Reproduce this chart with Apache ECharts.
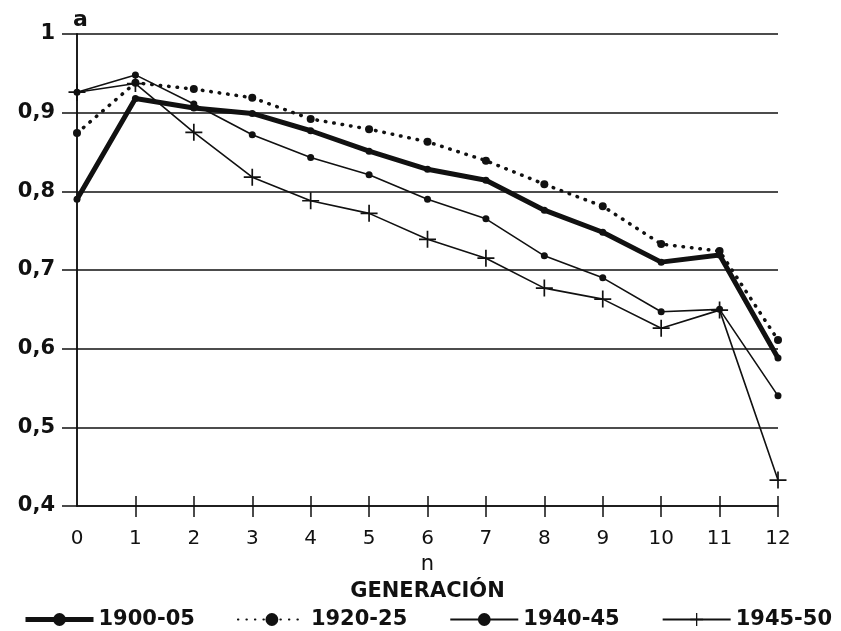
<!DOCTYPE html>
<html>
<head>
<meta charset="utf-8">
<script src="https://cdn.jsdelivr.net/npm/echarts@6/dist/echarts.min.js"></script>
<style>
  html, body { margin: 0; padding: 0; background: #fff; }
  #chart { width: 841px; height: 631px; }
</style>
</head>
<body>
<div id="chart"></div>
<script>
// generación n
var generations = [0, 1, 2, 3, 4, 5, 6, 7, 8, 9, 10, 11, 12];
// valores de a por cohorte
var s1900 = [0.790, 0.918, 0.906, 0.899, 0.877, 0.851, 0.828, 0.814, 0.776, 0.748, 0.710, 0.719, 0.588];
var s1920 = [0.874, 0.938, 0.930, 0.919, 0.892, 0.879, 0.863, 0.839, 0.809, 0.781, 0.733, 0.724, 0.611];
var s1940 = [0.926, 0.948, 0.911, 0.872, 0.843, 0.821, 0.790, 0.765, 0.718, 0.690, 0.647, 0.650, 0.540];
var s1945 = [0.926, 0.937, 0.875, 0.818, 0.788, 0.772, 0.739, 0.715, 0.677, 0.663, 0.626, 0.649, 0.433];
var seriesNames = ["1900-05", "1920-25", "1940-45", "1945-50"];
// ejes
var yTicks = [0.4, 0.5, 0.6, 0.7, 0.8, 0.9, 1];
var yLabels = ["0,4", "0,5", "0,6", "0,7", "0,8", "0,9", "1"];
var xTicks = [1, 2, 3, 4, 5, 6, 7, 8, 9, 10, 11, 12];

var ink = "#111";
var plus = "path://M9,0h2v9h9v2h-9v9h-2v-9h-9v-2h9z";

function pairs(vals) {
  return generations.map(function (n, i) { return [n, vals[i]]; });
}

var chart = echarts.init(document.getElementById("chart"));

var option = {
  backgroundColor: "#fff",
  animation: false,
  grid: { left: 77, right: 63, top: 34, bottom: 125 },
  legend: {
    left: 18,
    top: 604,
    itemWidth: 68,
    itemHeight: 16,
    itemGap: 42,
    textStyle: { color: ink, fontFamily: "DejaVu Sans", fontWeight: "bold", fontSize: 21 },
    data: [
      { name: seriesNames[0], lineStyle: { width: 5 } },
      { name: seriesNames[1] },
      { name: seriesNames[2] },
      { name: seriesNames[3] }
    ]
  },
  xAxis: [
    {
      type: "value",
      min: 0,
      max: 12,
      interval: 1,
      name: "{n|n}\n{g|GENERACIÓN}",
      nameLocation: "middle",
      nameGap: 46,
      nameTextStyle: {
        color: ink,
        rich: {
          n: { fontFamily: "DejaVu Sans", fontSize: 21, lineHeight: 22, color: ink },
          g: { fontFamily: "DejaVu Sans", fontWeight: "bold", fontSize: 21, lineHeight: 32, color: ink }
        }
      },
      axisLine: { show: true, onZero: false, lineStyle: { color: ink, width: 1.5 } },
      axisTick: { show: true, customValues: xTicks, length: 11, lineStyle: { color: ink, width: 1.5 } },
      axisLabel: {
        margin: 23,
        color: ink,
        fontFamily: "DejaVu Sans",
        fontSize: 20,
        customValues: generations,
        formatter: function (v) { return String(v); }
      },
      splitLine: { show: false }
    },
    {
      type: "value",
      min: 0,
      max: 12,
      interval: 1,
      position: "bottom",
      axisLine: { show: false },
      axisTick: { show: true, inside: true, customValues: xTicks, length: 10, lineStyle: { color: ink, width: 1.5 } },
      axisLabel: { show: false },
      splitLine: { show: false }
    }
  ],
  yAxis: [
    {
      type: "value",
      min: 0.4,
      max: 1,
      interval: 0.1,
      name: "a",
      nameLocation: "end",
      nameGap: 3,
      nameTextStyle: { color: ink, fontFamily: "DejaVu Sans", fontWeight: "bold", fontSize: 22, align: "left", padding: [0, 0, 0, -4] },
      axisLine: { show: true, lineStyle: { color: ink, width: 1.5 } },
      axisTick: { show: true, length: 15, lineStyle: { color: ink, width: 1.5 } },
      axisLabel: {
        margin: 22,
        color: ink,
        fontFamily: "DejaVu Sans",
        fontWeight: "bold",
        fontSize: 21,
        formatter: function (v) {
          var i = yTicks.findIndex(function (t) { return Math.abs(t - v) < 1e-6; });
          return i >= 0 ? yLabels[i] : "";
        }
      },
      splitLine: { show: true, lineStyle: { color: ink, width: 1.5 } }
    },
    {
      type: "value",
      min: 0.4,
      max: 1,
      interval: 0.1,
      position: "right",
      axisLine: { show: true, lineStyle: { color: ink, width: 1.5 } },
      axisTick: { show: false },
      axisLabel: { show: false },
      splitLine: { show: false }
    }
  ],
  series: [
    {
      name: seriesNames[0],
      type: "line",
      data: pairs(s1900),
      symbol: "circle",
      symbolSize: 7,
      itemStyle: { color: ink },
      lineStyle: { color: ink, width: 5 },
      z: 4
    },
    {
      name: seriesNames[1],
      type: "line",
      data: pairs(s1920),
      symbol: "circle",
      symbolSize: 8,
      itemStyle: { color: ink },
      lineStyle: { color: ink, width: 3.5, type: [0.5, 8], cap: "round" },
      z: 3
    },
    {
      name: seriesNames[2],
      type: "line",
      data: pairs(s1940),
      symbol: "circle",
      symbolSize: 7,
      itemStyle: { color: ink },
      lineStyle: { color: ink, width: 1.6 },
      z: 3
    },
    {
      name: seriesNames[3],
      type: "line",
      data: pairs(s1945),
      symbol: plus,
      symbolSize: 17,
      itemStyle: { color: ink },
      lineStyle: { color: ink, width: 1.6 },
      z: 3
    }
  ]
};

chart.setOption(option);
</script>
</body>
</html>
